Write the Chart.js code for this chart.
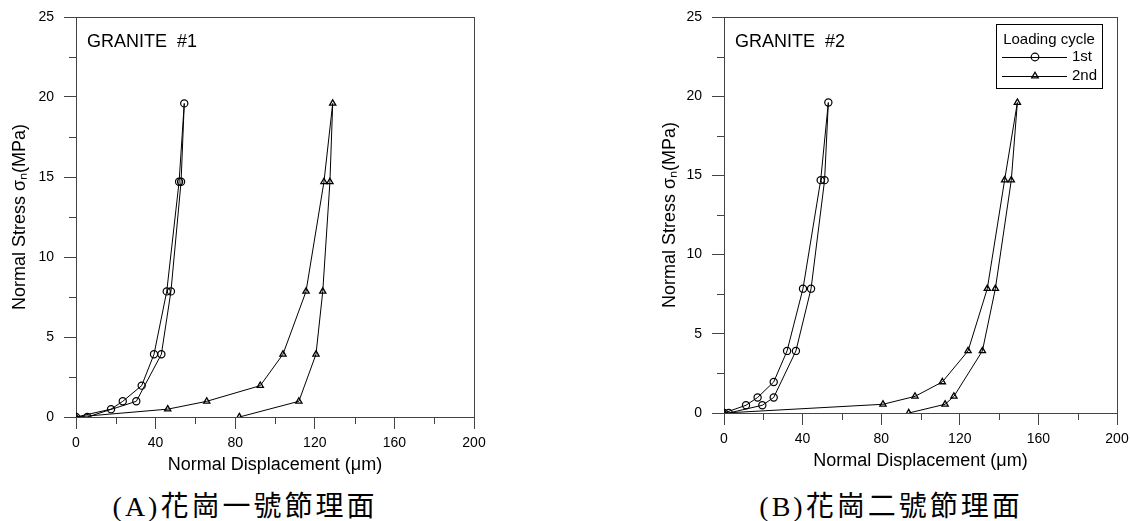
<!DOCTYPE html>
<html>
<head>
<meta charset="utf-8">
<script src="https://cdn.jsdelivr.net/npm/chart.js@4.4.1/dist/chart.umd.min.js"></script>
<style>
  body { margin: 0; background: #fff; width: 1130px; height: 521px; position: relative; overflow: hidden; }
  .box { position: absolute; top: 0; width: 565px; height: 480px; }
  .cap { position: absolute; top: 491px; font-family: "Liberation Serif", "Noto Sans CJK TC", serif; font-size: 28px; line-height: 32px; letter-spacing: 3px; text-align: center; color: #000; }
</style>
</head>
<body>
<div class="box" style="left:0"><canvas id="chart1" width="565" height="480"></canvas></div>
<div class="box" style="left:565px"><canvas id="chart2" width="565" height="480"></canvas></div>
<div class="cap" style="left:0; width:490px;">(A)花崗一號節理面</div>
<div class="cap" style="left:661px; width:460px;">(B)花崗二號節理面</div>
<script>
/* datos */
const stress_g1_1st = [0, 0.49, 0.98, 1.96, 3.92, 7.85, 14.7, 19.6, 14.7, 7.85, 3.92, 0.98, 0];
const disp_g1_1st   = [0, 17.6, 23.5, 33.0, 39.2, 45.6, 51.8, 54.4, 52.8, 47.7, 42.9, 30.3, 5.7];
const stress_g1_2nd = [0, 0.49, 0.98, 1.96, 3.92, 7.85, 14.7, 19.6, 14.7, 7.85, 3.92, 0.98, 0];
const disp_g1_2nd   = [0, 46.1, 65.7, 92.6, 104.0, 115.6, 124.6, 129.0, 127.6, 124.0, 120.6, 112.0, 82.1];

const stress_g2_1st = [0, 0.49, 0.98, 1.96, 3.92, 7.85, 14.7, 19.6, 14.7, 7.85, 3.92, 0.98, 0.49, 0];
const disp_g2_1st   = [0, 11.2, 17.1, 25.3, 32.1, 40.2, 49.2, 53.1, 51.2, 44.3, 36.6, 25.3, 19.5, 2.4];
const stress_g2_2nd = [0, 0.55, 1.05, 1.96, 3.92, 7.85, 14.7, 19.6, 14.7, 7.85, 3.92, 1.05, 0.55, 0];
const disp_g2_2nd   = [0, 80.9, 97.2, 111.1, 124.2, 134.0, 142.8, 149.3, 146.2, 138.1, 131.5, 117.0, 112.5, 94.0];

const cycle_labels = ["1st", "2nd"];
const panel_titles = ["GRANITE  #1", "GRANITE  #2"];
const x_title = "Normal Displacement (\u03bcm)";
const y_title = "Normal Stress \u03c3\u2099(MPa)";

const FONT = "'Liberation Sans', Arial, sans-serif";
const AXIS = "#444";

function pares(xs, ys) {
    return xs.map((x, i) => ({ x: x, y: ys[i] }));
}

function dataset(label, xs, ys, estilo) {
    return {
        label: label,
        data: pares(xs, ys),
        borderColor: "#000",
        borderWidth: 1,
        backgroundColor: "rgba(0,0,0,0)",
        pointStyle: estilo,
        pointRadius: 3.6,
        pointBorderWidth: estilo === "triangle" ? 1.3 : 1.2,
        pointBorderColor: "#000",
        pointBackgroundColor: "rgba(0,0,0,0)",
        tension: 0
    };
}

/* marco y ticks menores */
const marco = {
    id: "marco",
    beforeDatasetsDraw(chart) {
        const { ctx, chartArea: a, scales: { x, y } } = chart;
        ctx.save();
        ctx.strokeStyle = AXIS;
        ctx.lineWidth = 1;
        ctx.strokeRect(a.left + 0.5, a.top + 0.5, a.right - a.left, a.bottom - a.top);
        ctx.beginPath();
        for (let v = 20; v < 200; v += 40) {
            const px = Math.round(x.getPixelForValue(v)) + 0.5;
            ctx.moveTo(px, a.bottom);
            ctx.lineTo(px, a.bottom + 7);
        }
        for (let v = 2.5; v < 25; v += 5) {
            const py = Math.round(y.getPixelForValue(v)) + 0.5;
            ctx.moveTo(a.left, py);
            ctx.lineTo(a.left - 7, py);
        }
        ctx.stroke();
        ctx.restore();
    },
    afterDraw(chart, args, opts) {
        const { ctx, chartArea: a } = chart;
        ctx.save();
        ctx.fillStyle = "#000";
        ctx.font = "18px " + FONT;
        ctx.textBaseline = "middle";
        ctx.fillText(opts.titulo, a.left + 11, a.top + 25);
        ctx.restore();
    }
};

/* leyenda con recuadro */
const leyenda = {
    id: "leyenda",
    afterDraw(chart, args, opts) {
        if (!opts.mostrar) return;
        const { ctx, chartArea: a } = chart;
        const w = 106, h = 64;
        const x0 = a.right - 15 - w, y0 = a.top + 7;
        ctx.save();
        ctx.strokeStyle = "#000";
        ctx.lineWidth = 1;
        ctx.strokeRect(x0 + 0.5, y0 + 0.5, w, h);
        ctx.fillStyle = "#000";
        ctx.font = "15px " + FONT;
        ctx.textAlign = "center";
        ctx.textBaseline = "middle";
        ctx.fillText("Loading cycle", x0 + w / 2, y0 + 16);
        ctx.textAlign = "left";
        chart.data.datasets.forEach((ds, i) => {
            const yy = y0 + 33 + i * 19;
            ctx.beginPath();
            ctx.moveTo(x0 + 6, yy + 0.5);
            ctx.lineTo(x0 + 71, yy + 0.5);
            ctx.strokeStyle = "#000";
            ctx.lineWidth = 1;
            ctx.stroke();
            ctx.fillStyle = "rgba(0,0,0,0)";
            ctx.strokeStyle = "#000";
            ctx.lineWidth = ds.pointBorderWidth;
            Chart.helpers.drawPoint(ctx, { pointStyle: ds.pointStyle, radius: 3.8, borderWidth: ds.pointBorderWidth, rotation: 0 }, x0 + 39, yy);
            ctx.fillStyle = "#000";
            ctx.fillText(ds.label, x0 + 76, yy);
        });
        ctx.restore();
    }
};

function crear_grafico(id, titulo, sets, izq, der, anchoY, altoX, padTituloX, padTituloY, conLeyenda) {
    const ctx = document.getElementById(id).getContext("2d");
    return new Chart(ctx, {
        type: "line",
        data: { datasets: sets },
        options: {
            responsive: false,
            animation: false,
            layout: { padding: { left: izq, right: der, top: 17, bottom: 0 } },
            plugins: {
                legend: { display: false },
                tooltip: { enabled: false },
                marco: { titulo: titulo },
                leyenda: { mostrar: conLeyenda }
            },
            scales: {
                x: {
                    type: "linear",
                    min: 0, max: 200,
                    afterFit: (s) => { s.height = altoX; s.paddingLeft = 0; s.paddingRight = 0; },
                    ticks: { stepSize: 40, color: "#000", padding: 6, font: { family: FONT, size: 14 }, maxRotation: 0 },
                    grid: { drawOnChartArea: false, tickLength: 12, tickColor: AXIS },
                    border: { color: AXIS },
                    title: { display: true, text: x_title, color: "#000", font: { family: FONT, size: 18 }, padding: { top: 0, bottom: padTituloX } }
                },
                y: {
                    min: 0, max: 25,
                    afterFit: (s) => { s.width = anchoY; s.paddingTop = 0; s.paddingBottom = 0; },
                    ticks: { stepSize: 5, color: "#000", padding: 10, font: { family: FONT, size: 14 } },
                    grid: { drawOnChartArea: false, tickLength: 12, tickColor: AXIS },
                    border: { color: AXIS },
                    title: { display: true, text: y_title, color: "#000", font: { family: FONT, size: 18 }, padding: { top: padTituloY, bottom: 0 } }
                }
            }
        },
        plugins: [marco, leyenda]
    });
}

crear_grafico("chart1", panel_titles[0], [
    dataset(cycle_labels[0], disp_g1_1st, stress_g1_1st, "circle"),
    dataset(cycle_labels[1], disp_g1_2nd, stress_g1_2nd, "triangle")
], 0, 91, 76, 63, 4, 9, false);

crear_grafico("chart2", panel_titles[1], [
    dataset(cycle_labels[0], disp_g2_1st, stress_g2_1st, "circle"),
    dataset(cycle_labels[1], disp_g2_2nd, stress_g2_2nd, "triangle")
], 84, 13, 75, 67, 8, 10, true);
</script>
</body>
</html>
